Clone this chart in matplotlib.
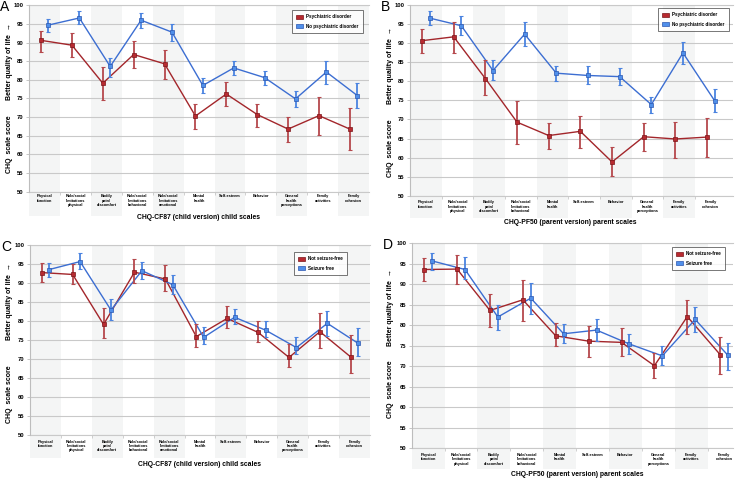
import matplotlib
matplotlib.use("Agg")
import matplotlib.pyplot as plt
from matplotlib.patches import Rectangle, Patch
from matplotlib.transforms import blended_transform_factory

plt.rcParams['font.family'] = ['Liberation Sans', 'DejaVu Sans']

W, H = 741, 479

# ---------------- data ----------------
child_scales = ["Physical\nfunction", "Role/social\nlimitations\nphysical", "Bodily\npain/\ndiscomfort",
                "Role/social\nlimitations\nbehavioral", "Role/social\nlimitations\nemotional", "Mental\nhealth",
                "Self-esteem", "Behavior", "General\nhealth\nperceptions", "Family\nactivities", "Family\ncohesion"]
parent_scales = ["Physical\nfunction", "Role/social\nlimitations\nphysical", "Bodily\npain/\ndiscomfort",
                 "Role/social\nlimitations\nbehavioral", "Mental\nhealth", "Self-esteem", "Behavior",
                 "General\nhealth\nperceptions", "Family\nactivities", "Family\ncohesion"]

# Panel A (child scales, psychiatric disorder)
a_psy = [90.6, 89.3, 79.1, 86.8, 84.3, 70.3, 76.2, 70.7, 66.8, 70.4, 66.8]
a_psy_lo = [87.6, 86.0, 74.6, 83.1, 80.3, 66.7, 73.0, 67.4, 63.2, 65.3, 61.2]
a_psy_hi = [93.2, 92.7, 83.5, 90.3, 88.1, 73.6, 79.3, 73.4, 70.1, 75.4, 72.4]
a_nopsy = [94.7, 96.6, 83.6, 96.0, 92.8, 78.5, 83.2, 80.6, 74.9, 82.1, 75.8]
a_nopsy_lo = [92.8, 94.9, 80.9, 93.8, 90.3, 76.6, 81.3, 78.7, 72.8, 78.9, 72.4]
a_nopsy_hi = [96.2, 98.6, 85.8, 98.0, 95.0, 80.6, 85.0, 82.3, 76.9, 85.1, 79.1]

# Panel B (parent scales, psychiatric disorder)
b_psy = [90.6, 91.6, 80.7, 69.3, 65.8, 66.9, 58.9, 65.5, 64.9, 65.4]
b_psy_lo = [87.5, 87.5, 76.3, 63.6, 62.3, 62.5, 55.1, 61.8, 60.0, 60.3]
b_psy_hi = [93.6, 95.6, 85.5, 74.8, 69.0, 71.0, 62.8, 69.0, 69.4, 70.3]
b_nopsy = [96.5, 94.5, 82.8, 92.3, 82.1, 81.5, 81.2, 73.9, 87.4, 74.9]
b_nopsy_lo = [94.8, 92.2, 80.3, 89.2, 80.1, 79.2, 79.0, 71.8, 84.5, 71.9]
b_nopsy_hi = [98.3, 97.1, 85.5, 95.6, 84.1, 84.1, 83.4, 76.0, 90.2, 77.9]

# Panel C (child scales, seizure status)
c_notfree = [92.8, 92.3, 79.1, 92.9, 91.1, 75.9, 80.7, 77.0, 70.4, 77.2, 70.5]
c_notfree_lo = [90.3, 89.7, 75.6, 90.0, 87.9, 73.2, 78.1, 74.6, 68.0, 73.0, 66.3]
c_notfree_hi = [95.4, 95.0, 83.5, 96.3, 94.9, 79.2, 83.9, 80.1, 74.0, 82.0, 76.3]
c_free = [93.6, 95.7, 82.9, 93.3, 89.6, 75.7, 81.0, 77.6, 73.0, 79.4, 74.1]
c_free_lo = [91.7, 93.7, 80.3, 91.0, 87.1, 73.9, 79.2, 75.9, 71.3, 76.1, 70.8]
c_free_hi = [95.2, 97.9, 85.9, 95.7, 92.2, 78.3, 83.2, 79.9, 75.7, 82.7, 78.1]

# Panel D (parent scales, seizure status)
d_notfree = [93.6, 93.7, 83.6, 86.2, 77.4, 76.1, 75.8, 70.1, 82.1, 72.8]
d_notfree_lo = [90.7, 90.0, 79.5, 81.0, 74.8, 72.2, 72.5, 67.0, 77.8, 68.1]
d_notfree_hi = [96.3, 97.2, 87.5, 91.1, 80.6, 79.7, 79.3, 73.1, 86.2, 77.0]
d_free = [95.7, 93.6, 82.0, 86.6, 77.9, 78.8, 75.4, 72.5, 81.4, 72.6]
d_free_lo = [93.6, 91.4, 78.8, 82.7, 75.7, 76.1, 72.9, 70.2, 78.3, 69.0]
d_free_hi = [97.7, 96.6, 84.9, 90.2, 80.2, 81.5, 77.8, 74.8, 84.4, 75.6]

y_ticks = [50, 55, 60, 65, 70, 75, 80, 85, 90, 95, 100]

RED_LINE = "#A3262B"
RED_FILL = "#B82A30"
RED_EDGE = "#7A1519"
RED_ERR = "#B5484C"
BLUE_LINE = "#3C6ED2"
BLUE_FILL = "#4F8FEA"
BLUE_EDGE = "#2B56B0"
BLUE_ERR = "#4A83E0"
SHADE = "#F4F5F5"
GRID = "#C9C9C9"

fig = plt.figure(figsize=(W / 100, H / 100), dpi=100)


def px_rect(l, t, r, b):
    return [l / W, 1 - b / H, (r - l) / W, (b - t) / H]


def panel(letter, l, t, r, b, xmax, labels, shaded, shade_bottom, label_pad,
          s1, s1_lo, s1_hi, s2, s2_lo, s2_hi, names, legend_box,
          xtitle, xtitle_xy, ylab_x, better_y, chq_y):
    ax = fig.add_axes(px_rect(l, t, r, b))
    n = len(labels)
    ax.set_xlim(-0.5, xmax)
    ax.set_ylim(50, 100)
    for s in ['top', 'right', 'bottom']:
        ax.spines[s].set_visible(False)
    ax.spines['left'].set_color("#BDBDBD")
    ax.spines['left'].set_linewidth(0.8)
    ax.set_yticks(y_ticks)
    ax.set_yticklabels([str(v) for v in y_ticks], fontsize=4.2, fontweight='bold')
    ax.tick_params(axis='y', length=2, width=0.6, color="#BDBDBD", pad=2)
    ax.yaxis.grid(True, color=GRID, linewidth=0.8, zorder=1)
    ax.set_axisbelow(True)
    for yv in (50, 100):
        ax.axhline(yv, color=GRID, linewidth=0.8, zorder=1, clip_on=False)

    # shaded category bands (extending below into the label area)
    trans = blended_transform_factory(ax.transData, ax.transAxes)
    ybot = -(shade_bottom - b) / (b - t)
    for i in shaded:
        ax.add_patch(Rectangle((i - 0.5, ybot), 1, 1 - ybot, transform=trans,
                               facecolor=SHADE, edgecolor='none', clip_on=False, zorder=0))

    ax.set_xticks(range(n))
    ax.set_xticklabels(labels, fontsize=2.8, fontweight='bold', linespacing=1.15)
    ax.tick_params(axis='x', length=0, pad=label_pad)
    ax.set_xticks([i + 0.5 for i in range(n - 1)], minor=True)
    ax.tick_params(axis='x', which='minor', length=2, width=0.5, color="#BDBDBD")

    x = list(range(n))
    off = 0.12
    x1 = [v - off for v in x]
    x2 = [v + off for v in x]
    ax.plot(x1, s1, color=RED_LINE, lw=1.0, zorder=3)
    ax.plot(x2, s2, color=BLUE_LINE, lw=1.0, zorder=3)
    ax.errorbar(x1, s1, yerr=[[m - lo for m, lo in zip(s1, s1_lo)], [hi - m for m, hi in zip(s1, s1_hi)]],
                fmt='none', ecolor=RED_ERR, elinewidth=1.3, capsize=1.2, capthick=0.8, zorder=4)
    ax.errorbar(x2, s2, yerr=[[m - lo for m, lo in zip(s2, s2_lo)], [hi - m for m, hi in zip(s2, s2_hi)]],
                fmt='none', ecolor=BLUE_ERR, elinewidth=1.3, capsize=1.2, capthick=0.8, zorder=4)
    ax.plot(x1, s1, ls='none', marker='s', ms=3.0, mfc=RED_FILL, mec=RED_EDGE, mew=0.5, zorder=5)
    ax.plot(x2, s2, ls='none', marker='s', ms=3.0, mfc=BLUE_FILL, mec=BLUE_EDGE, mew=0.5, zorder=5)

    handles = [Patch(facecolor=RED_FILL, edgecolor=RED_EDGE, linewidth=0.5),
               Patch(facecolor=BLUE_FILL, edgecolor=BLUE_EDGE, linewidth=0.5)]
    lx0, ly0, lx1, ly1 = legend_box
    leg = ax.legend(handles, names, loc='upper left',
                    bbox_to_anchor=(lx0 / W, 1 - ly0 / H), bbox_transform=fig.transFigure,
                    borderaxespad=0, prop={'weight': 'bold', 'size': 3.3},
                    frameon=True, fancybox=False, handlelength=1.6, handleheight=1.0,
                    handletextpad=0.6, labelspacing=1.0, borderpad=0.9)
    leg.get_frame().set_edgecolor("#3A3A3A")
    leg.get_frame().set_linewidth(0.6)
    leg.set_zorder(10)

    fig.text(xtitle_xy[0] / W, 1 - xtitle_xy[1] / H, xtitle, ha='center', va='center',
             fontsize=4.9, fontweight='bold')
    fig.text(ylab_x / W, 1 - better_y / H, "Better quality of life  \u2192", rotation=90,
             ha='center', va='center', fontsize=5.0, fontweight='bold')
    fig.text(ylab_x / W, 1 - chq_y / H, "CHQ  scale score", rotation=90,
             ha='center', va='center', fontsize=5.0, fontweight='bold')
    fig.text((l - 29) / W, 1 - (t + 2) / H, letter, ha='left', va='center', fontsize=10)
    return ax


panel("A", 29.3, 5.3, 369, 191.7, 10.5, child_scales, [0, 2, 4, 6, 8, 10], 216, 2.0,
      a_psy, a_psy_lo, a_psy_hi, a_nopsy, a_nopsy_lo, a_nopsy_hi,
      ["Psychiatric disorder", "No psychiatric disorder"], (292, 10, 363, 31),
      "CHQ-CF87 (child version) child scales", (198, 217.5), 9.5, 62, 144)

panel("B", 410, 4.7, 733, 196, 9.7, parent_scales, [0, 2, 4, 6, 8], 218, 3.0,
      b_psy, b_psy_lo, b_psy_hi, b_nopsy, b_nopsy_lo, b_nopsy_hi,
      ["Psychiatric disorder", "No psychiatric disorder"], (658, 8, 725, 28),
      "CHQ-PF50 (parent version) parent scales", (570, 222), 390, 66, 148)

panel("C", 30, 245.3, 370, 434.7, 10.5, child_scales, [0, 2, 4, 6, 8, 10], 458, 3.5,
      c_notfree, c_notfree_lo, c_notfree_hi, c_free, c_free_lo, c_free_hi,
      ["Not seizure-free", "Seizure free"], (294, 252, 348, 273),
      "CHQ-CF87 (child version) child scales", (200, 465), 10, 302, 394)

panel("D", 411.7, 243.3, 733, 448, 9.27, parent_scales, [0, 2, 4, 6, 8], 469, 3.5,
      d_notfree, d_notfree_lo, d_notfree_hi, d_free, d_free_lo, d_free_hi,
      ["Not seizure-free", "Seizure free"], (672, 247, 729, 267),
      "CHQ-PF50 (parent version) parent scales", (577, 475), 391, 308, 389)

fig.savefig("out.png", dpi=100)
